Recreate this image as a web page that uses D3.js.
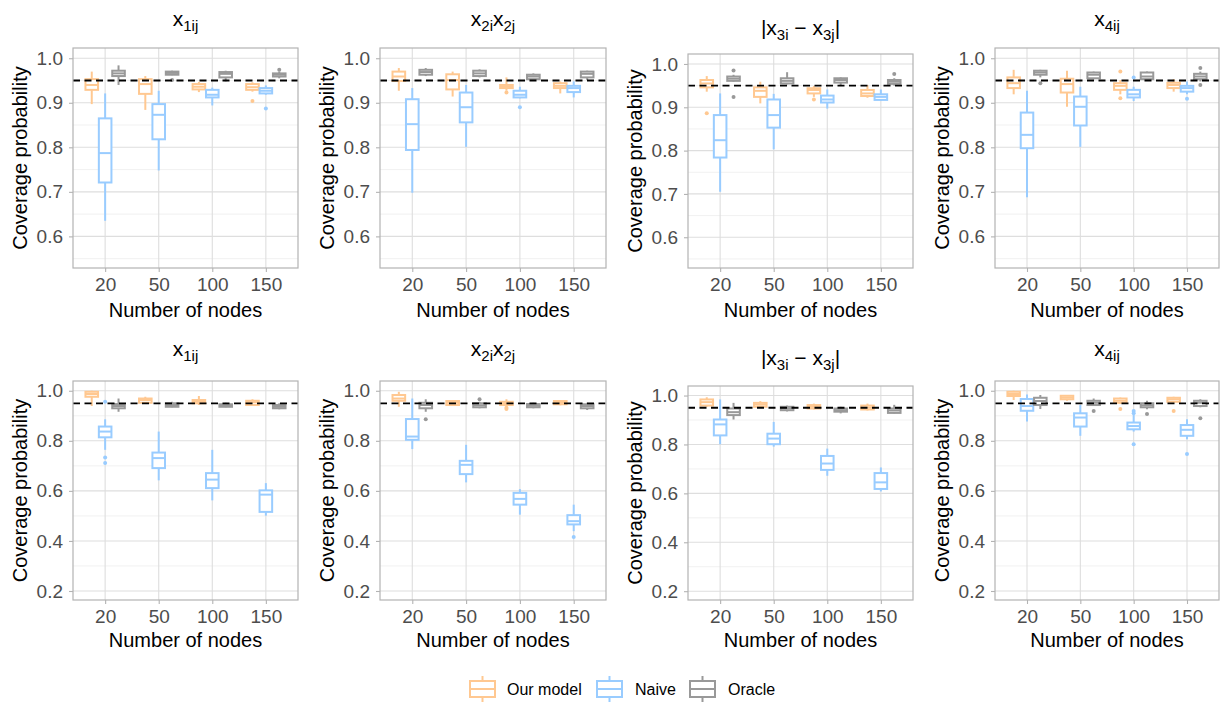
<!DOCTYPE html>
<html><head><meta charset="utf-8">
<script src="https://cdn.jsdelivr.net/npm/d3@7"></script>
<style>body{margin:0;background:#fff} text{font-family:"Liberation Sans",Arial,Helvetica,sans-serif}</style>
</head><body><svg id="c" width="1221" height="702"></svg>
<script>
// ---------- data ----------
const categories = ["20", "50", "100", "150"];
const methods = ["Our model", "Naive", "Oracle"];
const colors = ["#FFC891", "#99CCFF", "#999999"];
const titleParts = [
  [["x",0],["1ij",1]],
  [["x",0],["2i",1],["x",0],["2j",1]],
  [["|x",0],["3i",1],[" \u2212 x",0],["3j",1],["|",0]],
  [["x",0],["4ij",1]],
  [["x",0],["1ij",1]],
  [["x",0],["2i",1],["x",0],["2j",1]],
  [["|x",0],["3i",1],[" \u2212 x",0],["3j",1],["|",0]],
  [["x",0],["4ij",1]]
];
const topTicks = [0.6, 0.7, 0.8, 0.9, 1.0];
const topMinor = [0.55, 0.65, 0.75, 0.85, 0.95];
const bottomTicks = [0.2, 0.4, 0.6, 0.8, 1.0];
const bottomMinor = [0.3, 0.5, 0.7, 0.9];
const refLine = 0.95;
const xTitle = "Number of nodes";
const yTitle = "Coverage probability";

// box stats per panel, per category: [lower whisker, Q1, median, Q3, upper whisker]
const ourModel = [
  [[0.897,0.929,0.940,0.953,0.970],[0.884,0.920,0.942,0.953,0.960],[0.924,0.930,0.936,0.942,0.947],[0.925,0.929,0.935,0.942,0.946]],
  [[0.927,0.949,0.959,0.970,0.978],[0.914,0.930,0.951,0.964,0.970],[0.927,0.933,0.936,0.940,0.957],[0.921,0.933,0.938,0.944,0.948]],
  [[0.936,0.946,0.955,0.963,0.972],[0.909,0.924,0.938,0.946,0.959],[0.924,0.932,0.940,0.944,0.949],[0.922,0.926,0.932,0.940,0.951]],
  [[0.919,0.933,0.944,0.957,0.974],[0.891,0.923,0.942,0.954,0.972],[0.919,0.929,0.938,0.944,0.951],[0.925,0.933,0.940,0.945,0.953]],
  [[0.939,0.976,0.987,0.996,1.000],[0.947,0.952,0.963,0.969,0.976],[0.943,0.950,0.956,0.963,0.979],[0.939,0.943,0.954,0.960,0.966]],
  [[0.936,0.960,0.969,0.983,0.996],[0.939,0.943,0.952,0.959,0.963],[0.939,0.943,0.950,0.956,0.966],[0.942,0.946,0.952,0.959,0.963]],
  [[0.954,0.959,0.973,0.984,0.993],[0.950,0.954,0.963,0.970,0.977],[0.943,0.947,0.954,0.961,0.967],[0.939,0.943,0.951,0.959,0.967]],
  [[0.963,0.979,0.987,0.996,1.000],[0.960,0.966,0.973,0.980,0.983],[0.947,0.952,0.960,0.969,0.973],[0.952,0.956,0.966,0.972,0.976]]
];
const naive = [
  [[0.635,0.721,0.787,0.865,0.921],[0.748,0.818,0.873,0.897,0.927],[0.894,0.912,0.918,0.929,0.934],[0.918,0.921,0.927,0.933,0.939]],
  [[0.698,0.794,0.852,0.908,0.933],[0.801,0.856,0.890,0.923,0.940],[0.910,0.912,0.918,0.927,0.936],[0.912,0.924,0.933,0.938,0.948]],
  [[0.705,0.784,0.824,0.882,0.932],[0.803,0.853,0.882,0.918,0.931],[0.897,0.911,0.918,0.927,0.941],[0.915,0.917,0.924,0.930,0.941]],
  [[0.688,0.798,0.828,0.878,0.927],[0.801,0.849,0.891,0.914,0.936],[0.904,0.912,0.919,0.929,0.936],[0.919,0.925,0.933,0.938,0.948]],
  [[0.764,0.814,0.837,0.857,0.886],[0.642,0.691,0.731,0.753,0.837],[0.562,0.611,0.645,0.671,0.764],[0.501,0.516,0.585,0.602,0.631]],
  [[0.767,0.804,0.817,0.887,0.969],[0.634,0.667,0.704,0.720,0.784],[0.505,0.545,0.568,0.592,0.607],[0.439,0.466,0.479,0.503,0.545]],
  [[0.801,0.837,0.882,0.902,0.984],[0.791,0.801,0.824,0.844,0.892],[0.672,0.696,0.722,0.753,0.783],[0.608,0.618,0.645,0.683,0.706]],
  [[0.877,0.920,0.939,0.967,0.985],[0.820,0.857,0.893,0.910,0.943],[0.837,0.846,0.859,0.873,0.903],[0.806,0.820,0.844,0.863,0.886]]
];
const oracle = [
  [[0.940,0.960,0.966,0.972,0.984],[0.962,0.963,0.967,0.970,0.972],[0.948,0.957,0.965,0.969,0.972],[0.955,0.959,0.963,0.966,0.970]],
  [[0.960,0.963,0.969,0.974,0.978],[0.957,0.960,0.966,0.972,0.975],[0.950,0.953,0.959,0.963,0.966],[0.951,0.957,0.965,0.970,0.972]],
  [[0.959,0.961,0.966,0.971,0.975],[0.953,0.955,0.961,0.967,0.981],[0.949,0.957,0.963,0.967,0.969],[0.950,0.954,0.959,0.963,0.967]],
  [[0.957,0.963,0.968,0.972,0.974],[0.953,0.955,0.963,0.968,0.970],[0.950,0.953,0.959,0.968,0.970],[0.948,0.953,0.959,0.965,0.970]],
  [[0.916,0.930,0.939,0.947,0.969],[0.934,0.936,0.943,0.950,0.956],[0.934,0.936,0.942,0.946,0.952],[0.926,0.930,0.936,0.943,0.950]],
  [[0.916,0.930,0.943,0.952,0.966],[0.930,0.934,0.942,0.950,0.956],[0.930,0.934,0.940,0.947,0.952],[0.923,0.930,0.939,0.946,0.952]],
  [[0.902,0.920,0.932,0.947,0.970],[0.935,0.940,0.948,0.954,0.959],[0.927,0.934,0.940,0.947,0.954],[0.927,0.929,0.939,0.947,0.962]],
  [[0.927,0.943,0.959,0.972,0.983],[0.939,0.943,0.952,0.960,0.969],[0.926,0.934,0.942,0.950,0.960],[0.934,0.939,0.952,0.960,0.966]]
];
// outliers per panel, per category
const ourModelOut = [
  [[],[],[],[0.904]], [[],[],[0.923],[]], [[0.886],[],[0.918],[]], [[],[],[0.970,0.910],[]],
  [[],[],[],[]], [[],[],[0.932,0.927],[]], [[],[],[],[]], [[],[],[0.927],[0.919]]
];
const naiveOut = [
  [[],[],[],[0.887]], [[],[],[0.890],[]], [[],[],[],[]], [[],[],[0.957],[0.909]],
  [[0.956,0.733,0.711],[],[],[]], [[],[],[],[0.416]], [[],[],[],[]], [[],[],[0.919,0.910,0.786],[0.747]]
];
const oracleOut = [
  [[],[0.951],[],[0.974]], [[],[],[],[]], [[0.985,0.924],[],[],[0.977]], [[0.944],[],[],[0.978,0.940]],
  [[],[],[],[]], [[0.886],[0.966],[],[]], [[],[],[],[]], [[],[0.919],[0.907],[0.890]]
];

// ---------- layout ----------
const panels = [
  {l:73,  r:298,  t:48,  b:268, ty:26},
  {l:380, r:606,  t:48,  b:268, ty:26},
  {l:688, r:913,  t:54,  b:268, ty:35},
  {l:995, r:1219, t:48,  b:268, ty:26},
  {l:73,  r:298,  t:381, b:600, ty:356},
  {l:380, r:606,  t:381, b:600, ty:356},
  {l:688, r:913,  t:386, b:600, ty:365},
  {l:995, r:1219, t:381, b:600, ty:356}
];
const topDomain = [0.529, 1.023];
const bottomDomain = [0.164, 1.039];

const svg = d3.select("#c");
const statsAll = [ourModel, naive, oracle];
const outAll = [ourModelOut, naiveOut, oracleOut];
const lw = 2;

panels.forEach((p, pi) => {
  const top = pi < 4;
  const y = d3.scaleLinear().domain(top ? topDomain : bottomDomain).range([p.b, p.t]);
  const x = d3.scalePoint().domain(categories).range([p.l, p.r]).padding(0.6);
  const step = x.step();
  const g = svg.append("g");

  // grid
  (top ? topMinor : bottomMinor).forEach(v => {
    g.append("line").attr("x1", p.l).attr("x2", p.r).attr("y1", y(v)).attr("y2", y(v))
      .attr("stroke", "#EDEDED").attr("stroke-width", 0.8);
  });
  (top ? topTicks : bottomTicks).forEach(v => {
    g.append("line").attr("x1", p.l).attr("x2", p.r).attr("y1", y(v)).attr("y2", y(v))
      .attr("stroke", "#DEDEDE").attr("stroke-width", 1.1);
  });
  categories.forEach(c => {
    g.append("line").attr("x1", x(c)).attr("x2", x(c)).attr("y1", p.t).attr("y2", p.b)
      .attr("stroke", "#DEDEDE").attr("stroke-width", 1.1);
  });

  // boxes
  const bw = step * 0.235;
  methods.forEach((m, mi) => {
    const st = statsAll[mi][pi];
    const outs = outAll[mi][pi];
    const col = colors[mi];
    categories.forEach((c, ci) => {
      const s = st[ci];
      const cx = x(c) + (mi - 1) * step * 0.25;
      const bg = g.append("g");
      bg.append("line").attr("x1", cx).attr("x2", cx).attr("y1", y(s[4])).attr("y2", y(s[3]))
        .attr("stroke", col).attr("stroke-width", lw);
      bg.append("line").attr("x1", cx).attr("x2", cx).attr("y1", y(s[1])).attr("y2", y(s[0]))
        .attr("stroke", col).attr("stroke-width", lw);
      bg.append("rect").attr("x", cx - bw / 2).attr("width", bw)
        .attr("y", y(s[3])).attr("height", Math.max(0.5, y(s[1]) - y(s[3])))
        .attr("fill", "#fff").attr("stroke", col).attr("stroke-width", lw);
      bg.append("line").attr("x1", cx - bw / 2).attr("x2", cx + bw / 2).attr("y1", y(s[2])).attr("y2", y(s[2]))
        .attr("stroke", col).attr("stroke-width", lw);
      outs[ci].forEach(v => {
        bg.append("circle").attr("cx", cx).attr("cy", y(v)).attr("r", 2).attr("fill", col);
      });
    });
  });

  // reference line
  g.append("line").attr("x1", p.l).attr("x2", p.r).attr("y1", y(refLine)).attr("y2", y(refLine))
    .attr("stroke", "#000").attr("stroke-width", 1.8).attr("stroke-dasharray", "7,4.5");

  // border
  g.append("rect").attr("x", p.l).attr("y", p.t).attr("width", p.r - p.l).attr("height", p.b - p.t)
    .attr("fill", "none").attr("stroke", "#B3B3B3").attr("stroke-width", 1.2);

  // axes
  const ya = g.append("g").attr("transform", `translate(${p.l},0)`)
    .call(d3.axisLeft(y).tickValues(top ? topTicks : bottomTicks).tickFormat(d3.format(".1f")).tickSize(4).tickPadding(6));
  const xa = g.append("g").attr("transform", `translate(0,${p.b})`)
    .call(d3.axisBottom(x).tickSize(4).tickPadding(6));
  [ya, xa].forEach(a => {
    a.select(".domain").remove();
    a.selectAll(".tick line").attr("stroke", "#B3B3B3").attr("stroke-width", 1.1);
    a.selectAll(".tick text").attr("fill", "#4D4D4D").style("font-size", "19px")
      .style("font-family", '"Liberation Sans",Arial,sans-serif');
  });

  // axis titles
  g.append("text").attr("x", (p.l + p.r) / 2).attr("y", p.b + 49 - (top ? 0 : 2))
    .attr("text-anchor", "middle").attr("fill", "#000").style("font-size", "20px").text(xTitle);
  g.append("text").attr("transform", `translate(${p.l - 53},${(p.t + p.b) / 2}) rotate(-90)`)
    .attr("text-anchor", "middle").attr("dy", "0.36em").attr("fill", "#000").style("font-size", "20px").text(yTitle);

  // panel title
  const tt = g.append("text").attr("x", (p.l + p.r) / 2).attr("y", p.ty)
    .attr("text-anchor", "middle").attr("fill", "#000").style("font-size", "21px");
  let prevSub = 0;
  titleParts[pi].forEach(([txt, sub]) => {
    const ts = tt.append("tspan").text(txt).attr("xml:space", "preserve");
    if (sub) { ts.style("font-size", "15px"); if (!prevSub) ts.attr("dy", 5); }
    else if (prevSub) ts.attr("dy", -5);
    prevSub = sub;
  });
  tt.attr("xml:space", "preserve");
});

// legend
const legX = [470, 597, 690];
const legTextX = [507, 635, 728];
const legY = 689;
methods.forEach((m, mi) => {
  const lg = svg.append("g");
  const cx = legX[mi] + 12.5;
  lg.append("line").attr("x1", cx).attr("x2", cx).attr("y1", legY - 13).attr("y2", legY + 13)
    .attr("stroke", colors[mi]).attr("stroke-width", lw);
  lg.append("rect").attr("x", legX[mi]).attr("y", legY - 8).attr("width", 25).attr("height", 16)
    .attr("fill", "#fff").attr("stroke", colors[mi]).attr("stroke-width", lw);
  lg.append("line").attr("x1", legX[mi]).attr("x2", legX[mi] + 25).attr("y1", legY).attr("y2", legY)
    .attr("stroke", colors[mi]).attr("stroke-width", lw);
  lg.append("text").attr("x", legTextX[mi]).attr("y", legY).attr("dy", "0.36em")
    .attr("fill", "#000").style("font-size", "16px").text(m);
});
</script></body></html>
